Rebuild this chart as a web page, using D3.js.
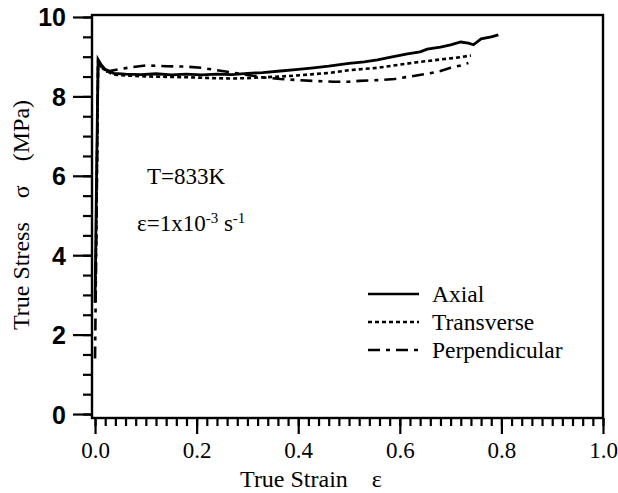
<!DOCTYPE html>
<html>
<head>
<meta charset="utf-8">
<script src="https://cdn.jsdelivr.net/npm/d3@7.9.0/dist/d3.min.js"></script>
<style>
  body { margin: 0; background: #fff; }
  svg text { fill: #000; }
</style>
</head>
<body>
<svg id="chart" width="618" height="493"></svg>
<script>
// Data: [strain, stress MPa]
const axial = [
  [0.000, 2.8], [0.003, 6.0], [0.006, 8.93], [0.012, 8.8], [0.02, 8.68], [0.037, 8.58],
  [0.06, 8.56], [0.09, 8.55], [0.12, 8.57], [0.15, 8.54], [0.18, 8.56], [0.21, 8.54],
  [0.24, 8.56], [0.27, 8.55], [0.30, 8.58], [0.33, 8.6], [0.365, 8.64], [0.40, 8.68],
  [0.43, 8.72], [0.46, 8.76], [0.50, 8.83], [0.53, 8.87], [0.556, 8.92], [0.58, 8.98],
  [0.615, 9.07], [0.64, 9.12], [0.654, 9.19], [0.68, 9.24], [0.70, 9.3], [0.72, 9.37],
  [0.735, 9.34], [0.745, 9.3], [0.76, 9.45], [0.78, 9.5], [0.794, 9.55]
];
const transverse = [
  [0.001, 3.2], [0.004, 6.5], [0.006, 8.85], [0.015, 8.7], [0.035, 8.55], [0.07, 8.52],
  [0.11, 8.5], [0.15, 8.49], [0.19, 8.48], [0.23, 8.46], [0.27, 8.45], [0.30, 8.46],
  [0.33, 8.48], [0.365, 8.5], [0.40, 8.53], [0.43, 8.56], [0.46, 8.59], [0.50, 8.66],
  [0.556, 8.72], [0.60, 8.8], [0.634, 8.86], [0.68, 8.93], [0.71, 8.97], [0.74, 9.03]
];
const perpendicular = [
  [0.000, 1.4], [0.003, 5.0], [0.006, 8.85], [0.02, 8.62], [0.05, 8.69], [0.075, 8.74],
  [0.10, 8.78], [0.14, 8.76], [0.18, 8.75], [0.21, 8.72], [0.235, 8.67], [0.27, 8.6],
  [0.30, 8.54], [0.33, 8.48], [0.365, 8.44], [0.40, 8.41], [0.43, 8.39], [0.47, 8.37],
  [0.50, 8.37], [0.52, 8.39], [0.56, 8.41], [0.59, 8.44], [0.62, 8.5], [0.654, 8.57],
  [0.68, 8.64], [0.70, 8.72], [0.72, 8.78], [0.735, 8.84]
];

const seriesNames = ['Axial', 'Transverse', 'Perpendicular'];
const xTickLabels = [0, 0.2, 0.4, 0.6, 0.8, 1.0];
const yTickLabels = [0, 2, 4, 6, 8, 10];

const svg = d3.select('#chart');
const plotLeft = 92, plotRight = 603, plotTop = 15, plotBottom = 418;

const x = d3.scaleLinear().domain([-0.006, 1.0]).range([plotLeft, plotRight]);
const y = d3.scaleLinear().domain([-0.1, 10.05]).range([plotBottom, plotTop]);

// frame
svg.append('rect')
  .attr('x', plotLeft).attr('y', plotTop)
  .attr('width', plotRight - plotLeft).attr('height', plotBottom - plotTop)
  .attr('fill', 'none').attr('stroke', '#000').attr('stroke-width', 2.4);

// y axis: major + minor ticks pointing out
const yAxisMinor = d3.axisLeft(y).tickValues(d3.range(0, 10.01, 0.5)).tickSize(9).tickFormat('');
svg.append('g').attr('transform', `translate(${plotLeft},0)`).call(yAxisMinor)
  .call(g => g.select('.domain').remove())
  .call(g => g.selectAll('line').attr('stroke', '#000').attr('stroke-width', 2.2));

const yAxis = d3.axisLeft(y).tickValues(yTickLabels).tickSize(19).tickPadding(7).tickFormat(d3.format('d'));
svg.append('g').attr('transform', `translate(${plotLeft},0)`).call(yAxis)
  .call(g => g.select('.domain').remove())
  .call(g => g.selectAll('line').attr('stroke', '#000').attr('stroke-width', 2.2))
  .call(g => g.selectAll('text')
    .attr('font-family', 'Liberation Sans, Arial, sans-serif')
    .attr('font-weight', 'bold').attr('font-size', 25).attr('dy', '0.36em'));

// x axis
const xAxisMinor = d3.axisBottom(x).tickValues(d3.range(0, 1.001, 0.02)).tickSize(8).tickFormat('');
svg.append('g').attr('transform', `translate(0,${plotBottom})`).call(xAxisMinor)
  .call(g => g.select('.domain').remove())
  .call(g => g.selectAll('line').attr('stroke', '#000').attr('stroke-width', 2.2));

const xAxis = d3.axisBottom(x).tickValues(xTickLabels).tickSize(16).tickPadding(8).tickFormat(d3.format('.1f'));
svg.append('g').attr('transform', `translate(0,${plotBottom})`).call(xAxis)
  .call(g => g.select('.domain').remove())
  .call(g => g.selectAll('line').attr('stroke', '#000').attr('stroke-width', 2.2))
  .call(g => g.selectAll('text')
    .attr('font-family', 'Liberation Serif, Times New Roman, serif')
    .attr('font-size', 23));

// axis titles
svg.append('text')
  .attr('x', 311).attr('y', 487)
  .attr('text-anchor', 'middle')
  .attr('font-family', 'Liberation Serif, serif').attr('font-size', 24)
  .attr('xml:space', 'preserve')
  .text('True Strain    ε');

svg.append('text')
  .attr('transform', 'translate(29,215) rotate(-90)')
  .attr('text-anchor', 'middle')
  .attr('font-family', 'Liberation Serif, serif').attr('font-size', 24)
  .attr('xml:space', 'preserve')
  .text('True Stress    σ    (MPa)');

// curves
const line = d3.line().x(d => x(d[0])).y(d => y(d[1]));
const styles = [
  { data: axial, dash: null, width: 2.8 },
  { data: transverse, dash: '4,3', width: 2.6 },
  { data: perpendicular, dash: '12,6,4,6', width: 2.6 }
];
styles.forEach(s => {
  svg.append('path')
    .datum(s.data)
    .attr('d', line)
    .attr('fill', 'none')
    .attr('stroke', '#000')
    .attr('stroke-width', s.width)
    .attr('stroke-dasharray', s.dash);
});

// annotations
svg.append('text')
  .attr('x', 147).attr('y', 184)
  .attr('font-family', 'Liberation Serif, serif').attr('font-size', 23)
  .text('T=833K');

const rate = svg.append('text')
  .attr('x', 137).attr('y', 231)
  .attr('font-family', 'Liberation Serif, serif').attr('font-size', 23);
rate.append('tspan').text('ε=1x10');
rate.append('tspan').attr('font-size', 15).attr('dy', -8).text('-3');
rate.append('tspan').attr('dy', 8).text(' s');
rate.append('tspan').attr('font-size', 15).attr('dy', -8).text('-1');

// legend
const legend = svg.append('g');
seriesNames.forEach((name, i) => {
  const ly = 294 + i * 28;
  legend.append('line')
    .attr('x1', 368).attr('x2', 419).attr('y1', ly).attr('y2', ly)
    .attr('stroke', '#000').attr('stroke-width', 2.4)
    .attr('stroke-dasharray', styles[i].dash);
  legend.append('text')
    .attr('x', 432).attr('y', ly + 8)
    .attr('font-family', 'Liberation Serif, serif').attr('font-size', 23.5)
    .text(name);
});
</script>
</body>
</html>
